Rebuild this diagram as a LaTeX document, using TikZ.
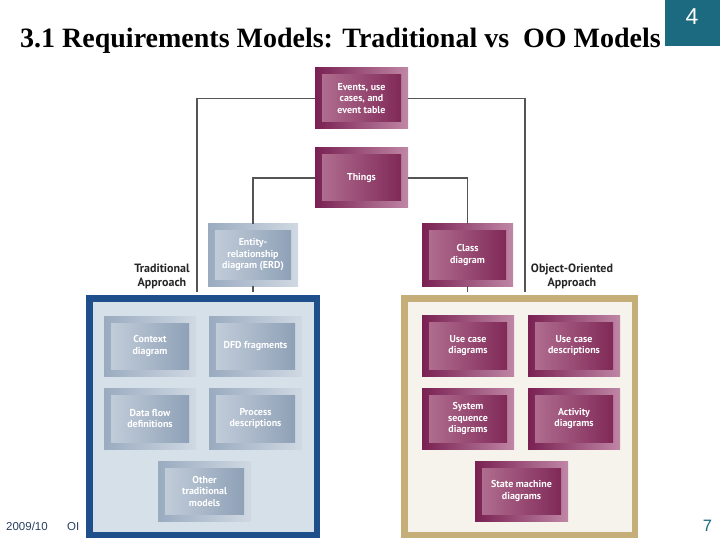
\documentclass[tikz,border=0pt]{standalone}
\usepackage{fontspec}
\setmainfont{Liberation Serif}
\newfontfamily\boxfont{PT Sans}
\newfontfamily\arialfont{Liberation Sans}
\definecolor{magDark}{HTML}{7A2152}
\definecolor{magLight}{HTML}{BF86A5}
\definecolor{magInL}{HTML}{B47394}
\definecolor{magInR}{HTML}{7C2353}
\definecolor{bluDark}{HTML}{9AABC0}
\definecolor{bluLight}{HTML}{D0D9E3}
\definecolor{bluInL}{HTML}{C6D0DC}
\definecolor{bluInR}{HTML}{8A9DB4}
\definecolor{tradBorder}{HTML}{1F4F8A}
\definecolor{tradFill}{HTML}{D6E0E9}
\definecolor{ooBorder}{HTML}{C6AE78}
\definecolor{ooFill}{HTML}{F6F3EC}
\definecolor{teal}{HTML}{1B6A80}
\definecolor{footc}{HTML}{2A4060}
\definecolor{linec}{HTML}{555555}
\tikzset{
  mbox/.style={rectangle, inner sep=0pt, minimum width=93pt, minimum height=61pt,
    left color=magDark, right color=magLight, text=white, align=center,
    font=\boxfont\bfseries\fontsize{10}{11.5}\selectfont,
    path picture={\shade[left color=magInL, right color=magInR]
      ([shift={(7pt,7pt)}]path picture bounding box.south west) rectangle
      ([shift={(-7pt,-7pt)}]path picture bounding box.north east);}},
  bbox/.style={mbox, left color=bluDark, right color=bluLight,
    path picture={\shade[left color=bluInL, right color=bluInR]
      ([shift={(7pt,7pt)}]path picture bounding box.south west) rectangle
      ([shift={(-7pt,-7pt)}]path picture bounding box.north east);}},
  bigbox/.style={rectangle, inner sep=0pt, line width=6.5pt},
  conn/.style={draw=linec, line width=1.3pt},
  side/.style={font=\boxfont\bfseries\fontsize{12}{14}\selectfont, align=center, text=black!85}
}
\begin{document}
\begin{tikzpicture}[x=1pt,y=-1pt]
\useasboundingbox (0,0) rectangle (720,540);
\fill[white] (0,0) rectangle (720,540);
% header
\node[anchor=base west, inner sep=0pt, font=\bfseries\fontsize{28}{31}\selectfont] (title) at (20,48) {3.1 Requirements Models: Traditional vs\ \ OO Models};
\node[fill=teal, minimum width=55pt, minimum height=46pt, inner sep=0pt, anchor=north west] (pg) at (665,0) {};
\node[text=white, font=\arialfont\fontsize{23}{26}\selectfont] (pgn) at (692,17) {4};
% footer
\node[text=footc, font=\arialfont\fontsize{11.5}{13}\selectfont, anchor=west, inner sep=0pt] (yr) at (6,526.5) {2009/10};
\node[text=footc, font=\arialfont\fontsize{11.5}{13}\selectfont, anchor=west, inner sep=0pt] (oi) at (67,526.5) {OI};
\node[text=teal, font=\arialfont\fontsize{16.5}{18}\selectfont, inner sep=0pt] (sl) at (707.5,526) {7};
% big boxes
\node[bigbox, draw=tradBorder, fill=tradFill, minimum width=227.5pt, minimum height=236.5pt] (trad) at (203,416.5) {};
\node[bigbox, draw=ooBorder, fill=ooFill, minimum width=230.5pt, minimum height=236.5pt] (oo) at (519.5,416.5) {};
% top nodes
\node[mbox] (ev) at (361.5,98.5) {Events, use\\cases, and\\event table};
\node[mbox, minimum height=60pt] (th) at (361.5,178) {Things};
\node[bbox, minimum width=90pt, minimum height=62pt] (erd) at (253,255) {Entity-\\relationship\\diagram (ERD)};
\node[mbox, minimum width=91pt, minimum height=62pt] (cls) at (467.5,255) {Class\\diagram};
% connectors
\coordinate (tl) at (197,292);
\coordinate (tr) at (525,292);
\draw[conn] (ev.west) -| (tl);
\draw[conn] (ev.east) -| (tr);
\draw[conn] (th.west) -| (erd.north);
\draw[conn] (th.east) -| (cls.north);
\draw[conn] (erd.south) -- (erd.south |- tl);
\draw[conn] (cls.south) -- (cls.south |- tr);
% side labels
\node[side] (tlab) at (162,276) {Traditional\\Approach};
\node[side] (olab) at (572,276) {Object-Oriented\\Approach};
% traditional models
\node[bbox, minimum width=92pt, minimum height=60pt] (ctx) at (150,346) {Context\\diagram};
\node[bbox, minimum width=93pt, minimum height=60pt] (dfd) at (255.5,346) {DFD fragments};
\node[bbox, minimum width=92pt] (dfl) at (150,418.5) {Data flow\\definitions};
\node[bbox, minimum width=93pt] (prc) at (255.5,418.5) {Process\\descriptions};
\node[bbox, minimum height=60pt] (oth) at (204.5,491) {Other\\traditional\\models};
% OO models
\node[mbox, minimum width=92pt] (ucd) at (468,345.5) {Use case\\diagrams};
\node[mbox, minimum width=92pt] (ucs) at (574,345.5) {Use case\\descriptions};
\node[mbox, minimum width=92pt] (ssd) at (468,418.5) {System\\sequence\\diagrams};
\node[mbox, minimum width=92pt] (act) at (574,418.5) {Activity\\diagrams};
\node[mbox, minimum height=60pt] (smd) at (521.5,491) {State machine\\diagrams};
\end{tikzpicture}
\end{document}
